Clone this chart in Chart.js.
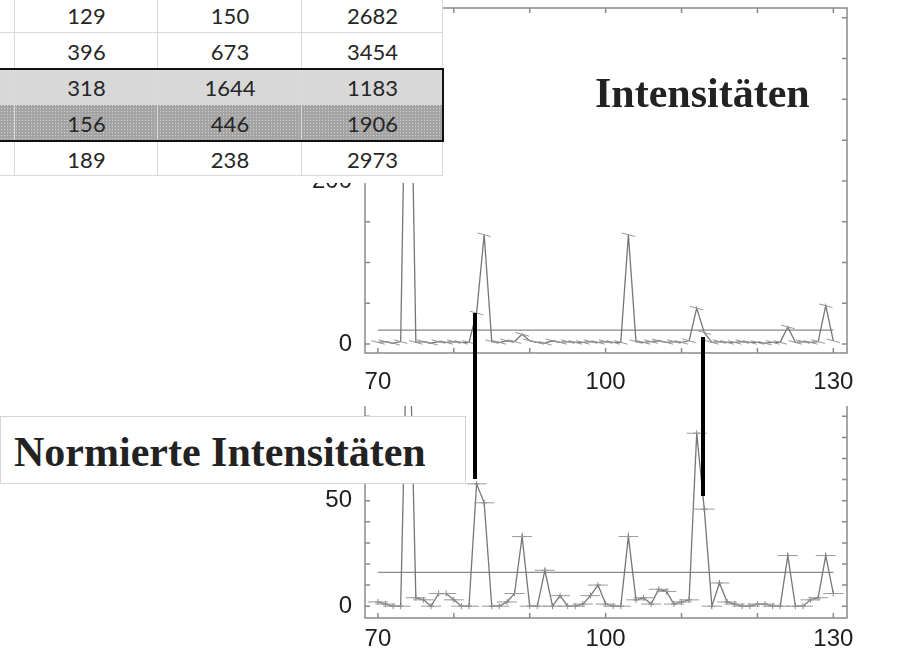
<!DOCTYPE html>
<html>
<head>
<meta charset="utf-8">
<script src="https://cdn.jsdelivr.net/npm/chart.js@4/dist/chart.umd.min.js"></script>
<style>
  body { margin: 0; background: #fff; }
  #wrap { position: relative; width: 901px; height: 657px; overflow: hidden; }
  canvas { position: absolute; left: 0; }
  #topChart { top: 0; }
  #normChart { top: 395px; }
  #table { position: absolute; left: 0; top: 0; width: 443px; height: 183px; background: #fff; font-family: Lato, sans-serif; font-size: 22px; color: #262626; }
  .row { position: absolute; left: 0; width: 443px; height: 36px; }
  .cell { position: absolute; top: 0; height: 36px; line-height: 40px; text-align: center; }
  .vline { position: absolute; top: 0; width: 1px; height: 176px; background: #dadada; }
  .hline { position: absolute; left: 0; width: 443px; height: 1px; background: #dadada; }
  .dots { background-color: #a4a4a4; background-image: radial-gradient(#cfcfcf 0.7px, transparent 0.9px); background-size: 3px 3px; }
  .title { position: absolute; font-family: "Liberation Serif", "Times New Roman", serif; font-weight: bold; font-size: 42px; line-height: 42px; color: #222; white-space: nowrap; }
  #normBox { position: absolute; left: 0; top: 416px; width: 464px; height: 66px; background: #fff; border: 1px solid #d6d6d6; }
  .bar { position: absolute; width: 4px; background: #000; }
</style>
</head>
<body>
<div id="wrap">
  <canvas id="topChart" width="901" height="395"></canvas>
  <canvas id="normChart" width="901" height="262"></canvas>
  <div id="table"></div>
  <div class="title" style="left:595px; top:72px;">Intensitäten</div>
  <div id="normBox"><div class="title" style="left:13px; top:14px;">Normierte Intensitäten</div></div>
  <div class="bar" style="left:473px; top:313px; height:166px;"></div>
  <div class="bar" style="left:701px; top:337px; height:159px;"></div>
</div>
<script>
// mass positions
const xValues = [70, 71, 72, 73, 74, 75, 76, 77, 78, 79, 80, 81, 82, 83, 84, 85, 86, 87, 88, 89,
  90, 91, 92, 93, 94, 95, 96, 97, 98, 99, 100, 101, 102, 103, 104, 105, 106, 107, 108, 109,
  110, 111, 112, 113, 114, 115, 116, 117, 118, 119, 120, 121, 122, 123, 124, 125, 126, 127, 128, 129, 130];

// raw intensities
const topIntensity = [2, 3, 1, 3, 560, 2, 3, 1, 3, 2, 3, 2, 2, 38, 134, 3, 2, 4, 3, 12,
  4, 2, 1, 4, 2, 3, 2, 2, 3, 2, 3, 2, 2, 134, 3, 2, 3, 4, 2, 3,
  2, 4, 44, 14, 2, 3, 2, 2, 3, 2, 2, 1, 2, 2, 21, 2, 3, 2, 3, 47, 4];
const topThreshold = 17;

// normalised intensities
const normIntensity = [2, 1, 0, 0, 160, 4, 3, 0, 6, 6, 3, 0, 0, 58, 49, 0, 0, 2, 6, 33,
  0, 0, 17, 0, 5, 0, 0, 1, 5, 10, 1, 0, 0, 33, 3, 4, 1, 8, 7, 1,
  2, 3, 82, 46, 0, 11, 2, 1, 0, 0, 1, 1, 0, 0, 24, 0, 0, 3, 4, 24, 6];
const normThreshold = 16;

// axis ticks
const xTicks = [70, 80, 90, 100, 110, 120, 130];
const xLabels = [70, 100, 130];
const topYTicks = [0, 50, 100, 150, 200, 250, 300, 350, 400];
const topYLabels = [0, 200];
const normYTicks = [0, 10, 20, 30, 40, 50, 60, 70, 80, 90];
const normYLabels = [0, 50];

// spreadsheet excerpt
const tableRows = [
  [129, 150, 2682],
  [396, 673, 3454],
  [318, 1644, 1183],
  [156, 446, 1906],
  [189, 238, 2973]
];

// build the table
const table = document.getElementById('table');
const colEdges = [15, 158, 302, 443];
tableRows.forEach((row, r) => {
  const div = document.createElement('div');
  div.className = 'row';
  div.style.top = (-4 + r * 36) + 'px';
  if (r === 2) div.style.background = '#d8d8d8';
  if (r === 3) div.classList.add('dots');
  row.forEach((v, c) => {
    const cell = document.createElement('div');
    cell.className = 'cell';
    cell.style.left = colEdges[c] + 'px';
    cell.style.width = (colEdges[c + 1] - colEdges[c]) + 'px';
    cell.textContent = v;
    div.appendChild(cell);
  });
  table.appendChild(div);
});
[32, 68, 104, 140, 175].forEach(y => {
  const l = document.createElement('div');
  l.className = 'hline';
  l.style.top = y + 'px';
  table.appendChild(l);
});
colEdges.forEach(x => {
  const l = document.createElement('div');
  l.className = 'vline';
  l.style.left = (x - 1) + 'px';
  table.appendChild(l);
});
const box = document.createElement('div');
box.style.cssText = 'position:absolute;left:-2px;top:68px;width:442px;height:70px;border:2px solid #111;';
table.appendChild(box);

// frame with inward ticks, drawn from the chart scales
const framePlugin = {
  id: 'frame',
  afterDraw(chart, args, opts) {
    const { ctx, chartArea: a, scales: { x, y } } = chart;
    ctx.save();
    ctx.strokeStyle = '#8a8a8a';
    ctx.lineWidth = 1.5;
    ctx.beginPath();
    ctx.moveTo(a.left, a.top);
    ctx.lineTo(a.left, a.bottom);
    ctx.lineTo(a.right, a.bottom);
    ctx.lineTo(a.right, a.top);
    if (opts.topBorder) ctx.lineTo(a.left, a.top);
    opts.xTicks.forEach(v => {
      const px = x.getPixelForValue(v);
      ctx.moveTo(px, a.bottom);
      ctx.lineTo(px, a.bottom - 5);
      if (opts.topBorder) {
        ctx.moveTo(px, a.top);
        ctx.lineTo(px, a.top + 5);
      }
    });
    opts.yTicks.forEach(v => {
      const py = y.getPixelForValue(v);
      ctx.moveTo(a.left, py);
      ctx.lineTo(a.left + 5, py);
      ctx.moveTo(a.right, py);
      ctx.lineTo(a.right - 5, py);
    });
    ctx.stroke();

    ctx.fillStyle = '#1e1e1e';
    ctx.font = '24px "Liberation Sans", Arial, sans-serif';
    ctx.textAlign = 'center';
    ctx.textBaseline = 'middle';
    opts.xLabels.forEach(v => {
      ctx.fillText(String(v), x.getPixelForValue(v), a.bottom + opts.labelGap);
    });
    ctx.textAlign = 'right';
    opts.yLabels.forEach(v => {
      ctx.fillText(String(v), a.left - 13, y.getPixelForValue(v));
    });
    ctx.restore();
  }
};

const baseOptions = (padding, yMin, yMax, frame) => ({
  responsive: false,
  animation: false,
  devicePixelRatio: 1,
  layout: { padding },
  plugins: { legend: { display: false }, tooltip: { enabled: false }, frame },
  scales: {
    x: { type: 'linear', min: 68.3, max: 131.8, display: false },
    y: { type: 'linear', min: yMin, max: yMax, display: false }
  }
});

const points = (ys) => xValues.map((x, i) => ({ x, y: ys[i] }));

new Chart(document.getElementById('topChart'), {
  type: 'line',
  data: {
    datasets: [
      {
        data: points(topIntensity),
        borderColor: '#767676',
        borderWidth: 1.3,
        pointStyle: 'line',
        pointRadius: 7,
        pointRotation: 15,
        pointBorderColor: '#969696',
        pointBorderWidth: 1,
        tension: 0
      },
      {
        data: [{ x: 70, y: topThreshold }, { x: 130, y: topThreshold }],
        borderColor: '#8a8a8a',
        borderWidth: 1.3,
        pointRadius: 0
      }
    ]
  },
  options: baseOptions({ left: 365, right: 54, top: 8, bottom: 42 }, -11, 412,
    { xTicks, xLabels, yTicks: topYTicks, yLabels: topYLabels, topBorder: true, labelGap: 29 }),
  plugins: [framePlugin]
});

new Chart(document.getElementById('normChart'), {
  type: 'line',
  data: {
    datasets: [
      {
        data: points(normIntensity),
        borderColor: '#767676',
        borderWidth: 1.3,
        pointStyle: 'line',
        pointRadius: 10,
        pointBorderColor: '#9a9a9a',
        pointBorderWidth: 1,
        tension: 0
      },
      {
        data: points(normIntensity),
        showLine: false,
        pointStyle: 'cross',
        pointRadius: 3,
        pointBorderColor: '#8a8a8a',
        pointBorderWidth: 1
      },
      {
        data: [{ x: 70, y: normThreshold }, { x: 130, y: normThreshold }],
        borderColor: '#8a8a8a',
        borderWidth: 1.3,
        pointRadius: 0
      }
    ]
  },
  options: baseOptions({ left: 365, right: 54, top: 6, bottom: 39 }, -5.6, 94.9,
    { xTicks, xLabels, yTicks: normYTicks, yLabels: normYLabels, topBorder: false, labelGap: 21 }),
  plugins: [framePlugin]
});
</script>
</body>
</html>
